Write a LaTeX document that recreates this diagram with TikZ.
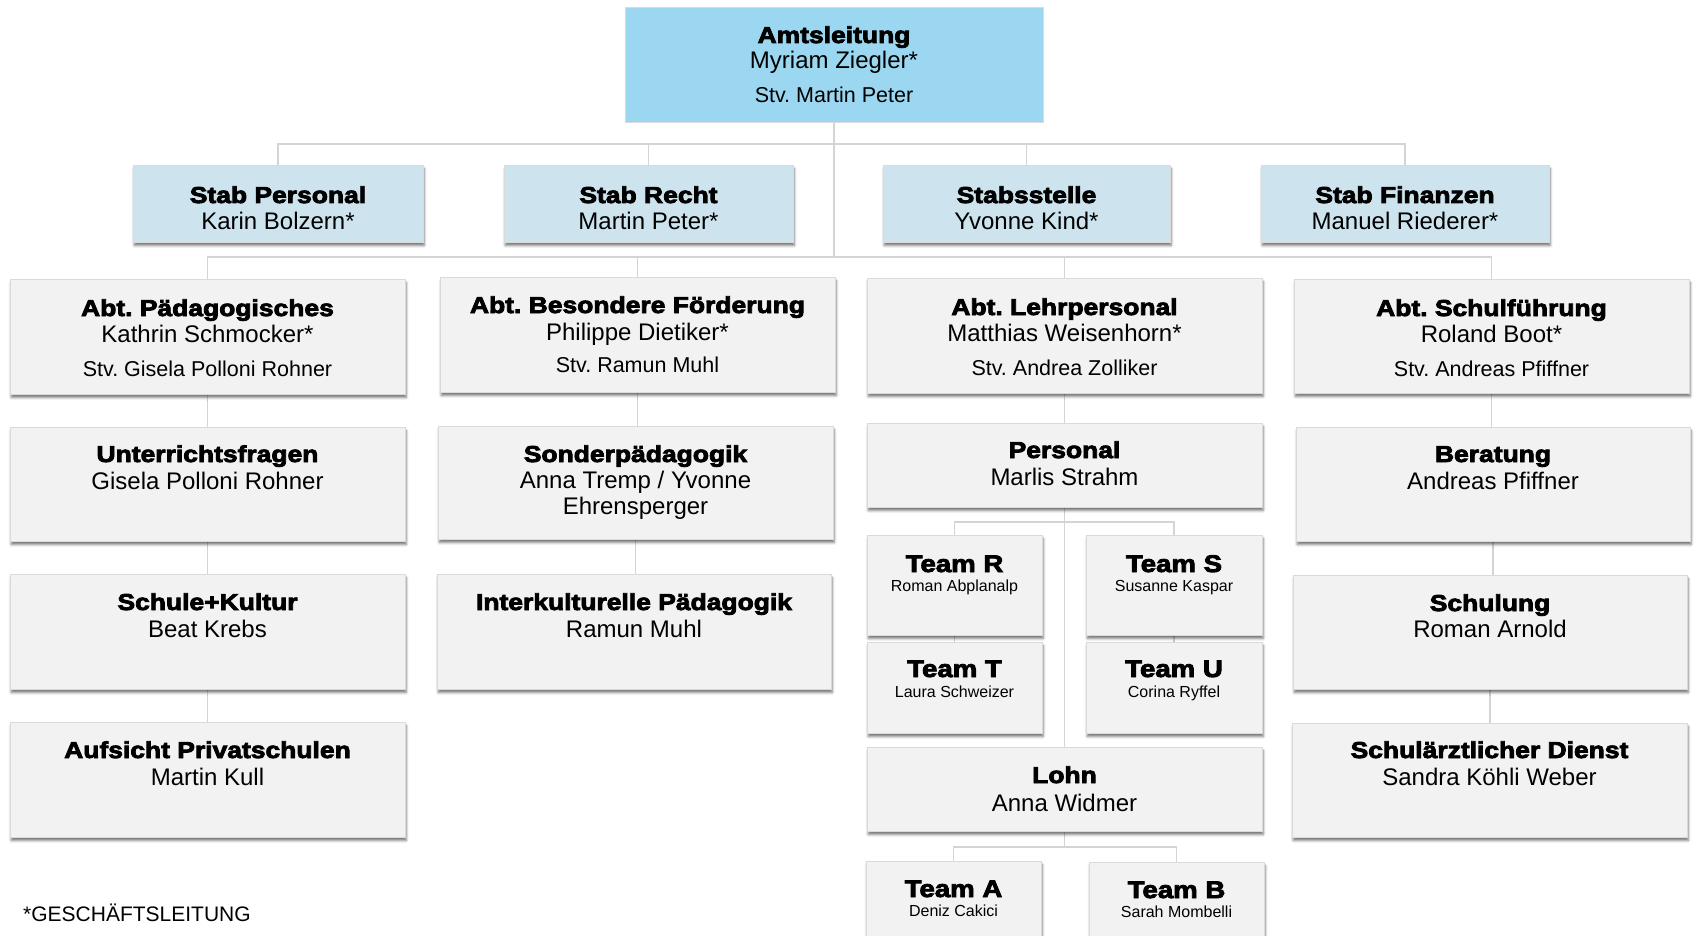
\documentclass[tikz,border=0pt]{standalone}
\usepackage{fontspec}
\setmainfont{Liberation Sans}
\newfontfamily\blk{Liberation Sans Bold}[FakeBold=3.5,FakeStretch=1.15]
\usetikzlibrary{fit,shadows.blur}
\pgfdeclarelayer{bg}
\pgfsetlayers{bg,main}
\frenchspacing
\definecolor{amtsblue}{RGB}{155,215,240}
\definecolor{stabblue}{RGB}{205,228,238}
\definecolor{boxgray}{RGB}{242,242,242}
\definecolor{boxline}{RGB}{218,218,218}
\definecolor{connline}{RGB}{212,212,212}
\tikzset{
  box/.style={draw=boxline, line width=0.8pt, inner sep=0pt, outer sep=0pt, fill=boxgray,
    blur shadow={shadow xshift=1.2pt, shadow yshift=-3.5pt, shadow blur radius=2.5pt, shadow opacity=55}},
  stabbox/.style={box, fill=stabblue},
  amtsbox/.style={draw=boxline, line width=0.8pt, fill=amtsblue, inner sep=0pt, outer sep=0pt},
  ttl/.style={inner sep=0pt, font=\blk\fontsize{23}{27}\selectfont},
  teamttl/.style={inner sep=0pt, font=\blk\fontsize{24}{28}\selectfont},
  nm/.style={inner sep=0pt, font=\fontsize{24}{28}\selectfont},
  stvtxt/.style={inner sep=0pt, font=\fontsize{21.5}{25}\selectfont},
  tnm/.style={inner sep=0pt, font=\fontsize{16}{19}\selectfont},
  fnote/.style={inner sep=0pt, font=\fontsize{21}{25}\selectfont},
  conn/.style={draw=connline, line width=1.4pt},
}
% name, style, x1, y1, x2, y2
\newcommand\ubox[6]{\node[#2, fit={(#3,#4) (#5,#6)}] (#1) {};}
% name, style, parent box, offset from top, text
\newcommand\utxt[5]{\node[#2, anchor=base] (#1) at ([yshift=-#4pt]#3.north) {#5};}
\begin{document}
\begin{tikzpicture}[x=1pt,y=-1pt]
\useasboundingbox (0,0) rectangle (1696,936);
\clip (0,0) rectangle (1696,936);
% level 0
\ubox{amts}{amtsbox}{625}{7}{1043}{122}
\utxt{amts-t}{ttl}{amts}{36}{Amtsleitung}
\utxt{amts-n}{nm}{amts}{62}{Myriam Ziegler*}
\utxt{amts-s}{stvtxt}{amts}{96}{Stv. Martin Peter}
% level 1 (Stab)
\ubox{sp}{stabbox}{133}{165}{423}{242}
\utxt{sp-t}{ttl}{sp}{38}{Stab Personal}
\utxt{sp-n}{nm}{sp}{64}{Karin Bolzern*}
\ubox{sr}{stabbox}{504}{165}{793}{242}
\utxt{sr-t}{ttl}{sr}{38}{Stab Recht}
\utxt{sr-n}{nm}{sr}{64}{Martin Peter*}
\ubox{ss}{stabbox}{883}{165}{1170}{242}
\utxt{ss-t}{ttl}{ss}{38}{Stabsstelle}
\utxt{ss-n}{nm}{ss}{64}{Yvonne Kind*}
\ubox{sf}{stabbox}{1261}{165}{1549}{242}
\utxt{sf-t}{ttl}{sf}{38}{Stab Finanzen}
\utxt{sf-n}{nm}{sf}{64}{Manuel Riederer*}
% level 2 (Abteilungen)
\ubox{apd}{box}{10}{279}{405}{394}
\utxt{apd-t}{ttl}{apd}{37}{Abt. Pädagogisches}
\utxt{apd-n}{nm}{apd}{63}{Kathrin Schmocker*}
\utxt{apd-s}{stvtxt}{apd}{97}{Stv. Gisela Polloni Rohner}
\ubox{abf}{box}{440}{277}{835}{392}
\utxt{abf-t}{ttl}{abf}{36}{Abt. Besondere Förderung}
\utxt{abf-n}{nm}{abf}{63}{Philippe Dietiker*}
\utxt{abf-s}{stvtxt}{abf}{95}{Stv. Ramun Muhl}
\ubox{alp}{box}{867}{278}{1262}{393}
\utxt{alp-t}{ttl}{alp}{37}{Abt. Lehrpersonal}
\utxt{alp-n}{nm}{alp}{63}{Matthias Weisenhorn*}
\utxt{alp-s}{stvtxt}{alp}{97}{Stv. Andrea Zolliker}
\ubox{asf}{box}{1294}{279}{1689}{393}
\utxt{asf-t}{ttl}{asf}{37}{Abt. Schulführung}
\utxt{asf-n}{nm}{asf}{63}{Roland Boot*}
\utxt{asf-s}{stvtxt}{asf}{97}{Stv. Andreas Pfiffner}
% column 1
\ubox{uf}{box}{10}{427}{405}{541}
\utxt{uf-t}{ttl}{uf}{35}{Unterrichtsfragen}
\utxt{uf-n}{nm}{uf}{62}{Gisela Polloni Rohner}
\ubox{sk}{box}{10}{574}{405}{689}
\utxt{sk-t}{ttl}{sk}{36}{Schule+Kultur}
\utxt{sk-n}{nm}{sk}{63}{Beat Krebs}
\ubox{aps}{box}{10}{722}{405}{837}
\utxt{aps-t}{ttl}{aps}{36}{Aufsicht Privatschulen}
\utxt{aps-n}{nm}{aps}{63}{Martin Kull}
% column 2
\ubox{sop}{box}{438}{426}{833}{539}
\utxt{sop-t}{ttl}{sop}{36}{Sonderpädagogik}
\utxt{sop-n}{nm}{sop}{62}{Anna Tremp / Yvonne}
\utxt{sop-m}{nm}{sop}{88}{Ehrensperger}
\ubox{ikp}{box}{437}{574}{831}{689}
\utxt{ikp-t}{ttl}{ikp}{36}{Interkulturelle Pädagogik}
\utxt{ikp-n}{nm}{ikp}{63}{Ramun Muhl}
% column 3
\ubox{pers}{box}{867}{423}{1262}{507}
\utxt{pers-t}{ttl}{pers}{35}{Personal}
\utxt{pers-n}{nm}{pers}{62}{Marlis Strahm}
\ubox{tr}{box}{867}{535}{1042}{635}
\utxt{tr-t}{teamttl}{tr}{37}{Team R}
\utxt{tr-n}{tnm}{tr}{56}{Roman Abplanalp}
\ubox{ts}{box}{1086}{535}{1262}{635}
\utxt{ts-t}{teamttl}{ts}{37}{Team S}
\utxt{ts-n}{tnm}{ts}{56}{Susanne Kaspar}
\ubox{tt}{box}{867}{642}{1042}{733}
\utxt{tt-t}{teamttl}{tt}{35}{Team T}
\utxt{tt-n}{tnm}{tt}{55}{Laura Schweizer}
\ubox{tu}{box}{1086}{642}{1262}{733}
\utxt{tu-t}{teamttl}{tu}{35}{Team U}
\utxt{tu-n}{tnm}{tu}{55}{Corina Ryffel}
\ubox{lohn}{box}{867}{747}{1262}{831}
\utxt{lohn-t}{ttl}{lohn}{36}{Lohn}
\utxt{lohn-n}{nm}{lohn}{64}{Anna Widmer}
\ubox{ta}{box}{866}{861}{1041}{950}
\utxt{ta-t}{teamttl}{ta}{36}{Team A}
\utxt{ta-n}{tnm}{ta}{55}{Deniz Cakici}
\ubox{tb}{box}{1089}{862}{1264}{950}
\utxt{tb-t}{teamttl}{tb}{36}{Team B}
\utxt{tb-n}{tnm}{tb}{55}{Sarah Mombelli}
% column 4
\ubox{ber}{box}{1296}{427}{1690}{541}
\utxt{ber-t}{ttl}{ber}{35}{Beratung}
\utxt{ber-n}{nm}{ber}{62}{Andreas Pfiffner}
\ubox{schu}{box}{1293}{575}{1687}{689}
\utxt{schu-t}{ttl}{schu}{36}{Schulung}
\utxt{schu-n}{nm}{schu}{62}{Roman Arnold}
\ubox{sad}{box}{1292}{723}{1687}{837}
\utxt{sad-t}{ttl}{sad}{35}{Schulärztlicher Dienst}
\utxt{sad-n}{nm}{sad}{62}{Sandra Köhli Weber}
% footnote
\node[fnote, anchor=base west] (fn) at (23,921) {*GESCHÄFTSLEITUNG};
% connectors
\coordinate (j1) at (834,144);
\coordinate (j2) at (834,257);
\coordinate (j3) at (1064.5,522);
\coordinate (j4) at (1064.5,847);
\begin{pgfonlayer}{bg}
\draw[conn] (amts.south) -- (j2);
\draw[conn] (sp.north) |- (j1) -| (sf.north);
\draw[conn] (sr.north) -- (sr.north |- j1);
\draw[conn] (ss.north) -- (ss.north |- j1);
\draw[conn] (apd.north) |- (j2) -| (asf.north);
\draw[conn] (abf.north) -- (abf.north |- j2);
\draw[conn] (alp.north) -- (alp.north |- j2);
\draw[conn] (apd.south) -- (uf.north);
\draw[conn] (uf.south) -- (sk.north);
\draw[conn] (sk.south) -- (aps.north);
\draw[conn] (abf.south) -- (abf.south |- sop.north);
\draw[conn] (sop.south) -- (sop.south |- ikp.north);
\draw[conn] (alp.south) -- (pers.north);
\draw[conn] (pers.south) -- (lohn.north);
\draw[conn] (tr.north) |- (j3) -| (ts.north);
\draw[conn] (tr.south) -- (tt.north);
\draw[conn] (ts.south) -- (tu.north);
\draw[conn] (lohn.south) -- (j4);
\draw[conn] (ta.north) |- (j4) -| (tb.north);
\draw[conn] (asf.south) -- (asf.south |- ber.north);
\draw[conn] (ber.south) -- (ber.south |- schu.north);
\draw[conn] (schu.south) -- (schu.south |- sad.north);
\end{pgfonlayer}
\end{tikzpicture}
\end{document}
